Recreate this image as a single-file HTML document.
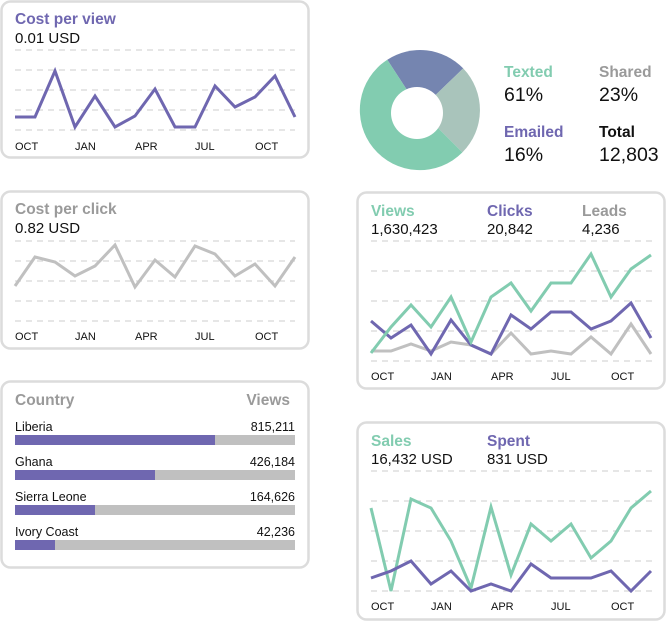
<!DOCTYPE html>
<html><head><meta charset="utf-8"><style>
html,body{margin:0;padding:0;background:#fff;}
svg{display:block;font-family:"Liberation Sans",sans-serif;}
.c{fill:#fff;stroke:#dcdcdc;stroke-width:2.5;}
.g{stroke:#d6d6d6;stroke-width:1.2;stroke-dasharray:6 5;}
.ax{font-size:11px;fill:#111;}
.t{font-size:15.5px;font-weight:bold;}
.v{font-size:15px;fill:#111;}
.l{fill:none;stroke-width:3;stroke-linejoin:miter;}
</style></head><body>
<svg width="667" height="622" viewBox="0 0 667 622">
<!-- card 1 -->
<rect class="c" x="1.5" y="1.5" width="307" height="156" rx="9"/>
<text class="t" x="15" y="24" fill="#6f67b0">Cost per view</text>
<text class="v" x="15" y="43">0.01 USD</text>
<g class="g"><line x1="15" x2="295" y1="50" y2="50"/><line x1="15" x2="295" y1="70" y2="70"/><line x1="15" x2="295" y1="90" y2="90"/><line x1="15" x2="295" y1="110" y2="110"/><line x1="15" x2="295" y1="130" y2="130"/></g>
<polyline class="l" stroke="#6f67b0" points="15,117 35,117 55,71 75,127 95,96 115,127 135,116 155,89 175,127 195,127 215,86 235,107 255,97 275,76 295,117"/>
<g class="ax"><text x="15" y="150">OCT</text><text x="75" y="150">JAN</text><text x="135" y="150">APR</text><text x="195" y="150">JUL</text><text x="255" y="150">OCT</text></g>

<!-- card 2 -->
<rect class="c" x="1.5" y="191.5" width="307" height="157" rx="9"/>
<text class="t" x="15" y="214" fill="#9a9a9a">Cost per click</text>
<text class="v" x="15" y="233">0.82 USD</text>
<g class="g"><line x1="15" x2="295" y1="241" y2="241"/><line x1="15" x2="295" y1="261" y2="261"/><line x1="15" x2="295" y1="281" y2="281"/><line x1="15" x2="295" y1="301" y2="301"/><line x1="15" x2="295" y1="321" y2="321"/></g>
<polyline class="l" stroke="#c0c0c0" points="15,286 35,257 55,262 75,276 95,266 115,245 135,287 155,260 175,277 195,246 215,254 235,276 255,264 275,286 295,257"/>
<g class="ax"><text x="15" y="340">OCT</text><text x="75" y="340">JAN</text><text x="135" y="340">APR</text><text x="195" y="340">JUL</text><text x="255" y="340">OCT</text></g>

<!-- card 3 -->
<rect class="c" x="1.5" y="381.5" width="307" height="186" rx="9"/>
<text class="t" x="15" y="405" fill="#9a9a9a">Country</text>
<text class="t" x="290" y="405" fill="#9a9a9a" text-anchor="end">Views</text>
<g font-size="12.5" fill="#111">
<text x="15" y="431">Liberia</text><text x="295" y="431" text-anchor="end">815,211</text>
<text x="15" y="466">Ghana</text><text x="295" y="466" text-anchor="end">426,184</text>
<text x="15" y="501">Sierra Leone</text><text x="295" y="501" text-anchor="end">164,626</text>
<text x="15" y="536">Ivory Coast</text><text x="295" y="536" text-anchor="end">42,236</text>
</g>
<g fill="#c0c0c0"><rect x="15" y="435" width="280" height="10"/><rect x="15" y="470" width="280" height="10"/><rect x="15" y="505" width="280" height="10"/><rect x="15" y="540" width="280" height="10"/></g>
<g fill="#6f67b0"><rect x="15" y="435" width="200" height="10"/><rect x="15" y="470" width="140" height="10"/><rect x="15" y="505" width="80" height="10"/><rect x="15" y="540" width="40" height="10"/></g>

<!-- donut -->
<g transform="translate(420,110)">
<path fill="#7585b0" d="M0,0 L-32.7,-50.3 A60,60 0 0 1 43.2,-41.6 Z"/>
<path fill="#a9c4bb" d="M0,0 L43.2,-41.6 A60,60 0 0 1 42.4,42.4 Z"/>
<path fill="#82ccb0" d="M0,0 L42.4,42.4 A60,60 0 1 1 -32.7,-50.3 Z"/>
</g>
<circle cx="417" cy="113" r="26" fill="#fff"/>
<text class="t" x="504" y="77" fill="#82ccb0">Texted</text>
<text x="504" y="101" font-size="19.5" fill="#111">61%</text>
<text class="t" x="599" y="77" fill="#9a9a9a">Shared</text>
<text x="599" y="101" font-size="19.5" fill="#111">23%</text>
<text class="t" x="504" y="137" fill="#6f67b0">Emailed</text>
<text x="504" y="161" font-size="19.5" fill="#111">16%</text>
<text class="t" x="599" y="137" fill="#111">Total</text>
<text x="599" y="161" font-size="19.5" fill="#111">12,803</text>

<!-- card 4 -->
<rect class="c" x="357.5" y="192.5" width="307" height="196" rx="9"/>
<text class="t" x="371" y="216" fill="#82ccb0">Views</text>
<text class="t" x="487" y="216" fill="#6f67b0">Clicks</text>
<text class="t" x="582" y="216" fill="#9a9a9a">Leads</text>
<text class="v" x="371" y="234">1,630,423</text>
<text class="v" x="487" y="234">20,842</text>
<text class="v" x="582" y="234">4,236</text>
<g class="g"><line x1="371" x2="652" y1="241" y2="241"/><line x1="371" x2="652" y1="271" y2="271"/><line x1="371" x2="652" y1="301" y2="301"/><line x1="371" x2="652" y1="331" y2="331"/><line x1="371" x2="652" y1="361" y2="361"/></g>
<polyline class="l" stroke="#c0c0c0" points="371,351 391,351 411,344 431,351 451,342 471,345 491,354 511,333 531,354 551,351 571,354 591,337 611,354 631,324 651,354"/>
<polyline class="l" stroke="#6f67b0" points="371,321 391,338 411,325 431,354 451,320 471,345 491,354 511,315 531,329 551,312 571,312 591,329 611,321 631,303 651,338"/>
<polyline class="l" stroke="#82ccb0" points="371,353 391,327 411,305 431,327 451,297 471,342 491,297 511,283 531,311 551,283 571,283 591,254 611,297 631,269 651,255"/>
<g class="ax"><text x="371" y="380">OCT</text><text x="431" y="380">JAN</text><text x="491" y="380">APR</text><text x="551" y="380">JUL</text><text x="611" y="380">OCT</text></g>

<!-- card 5 -->
<rect class="c" x="357.5" y="422.5" width="307" height="197" rx="9"/>
<text class="t" x="371" y="446" fill="#82ccb0">Sales</text>
<text class="t" x="487" y="446" fill="#6f67b0">Spent</text>
<text class="v" x="371" y="464">16,432 USD</text>
<text class="v" x="487" y="464">831 USD</text>
<g class="g"><line x1="371" x2="652" y1="471" y2="471"/><line x1="371" x2="652" y1="501" y2="501"/><line x1="371" x2="652" y1="531" y2="531"/><line x1="371" x2="652" y1="561" y2="561"/><line x1="371" x2="652" y1="591" y2="591"/></g>
<polyline class="l" stroke="#82ccb0" points="371,508 391,591 411,499 431,508 451,541 471,588 491,507 511,575 531,524 551,541 571,524 591,558 611,541 631,508 651,491"/>
<polyline class="l" stroke="#6f67b0" points="371,578 391,571 411,561 431,584 451,571 471,591 491,584 511,591 531,564 551,578 571,578 591,578 611,571 631,591 651,571"/>
<g class="ax"><text x="371" y="610">OCT</text><text x="431" y="610">JAN</text><text x="491" y="610">APR</text><text x="551" y="610">JUL</text><text x="611" y="610">OCT</text></g>
</svg>
</body></html>
